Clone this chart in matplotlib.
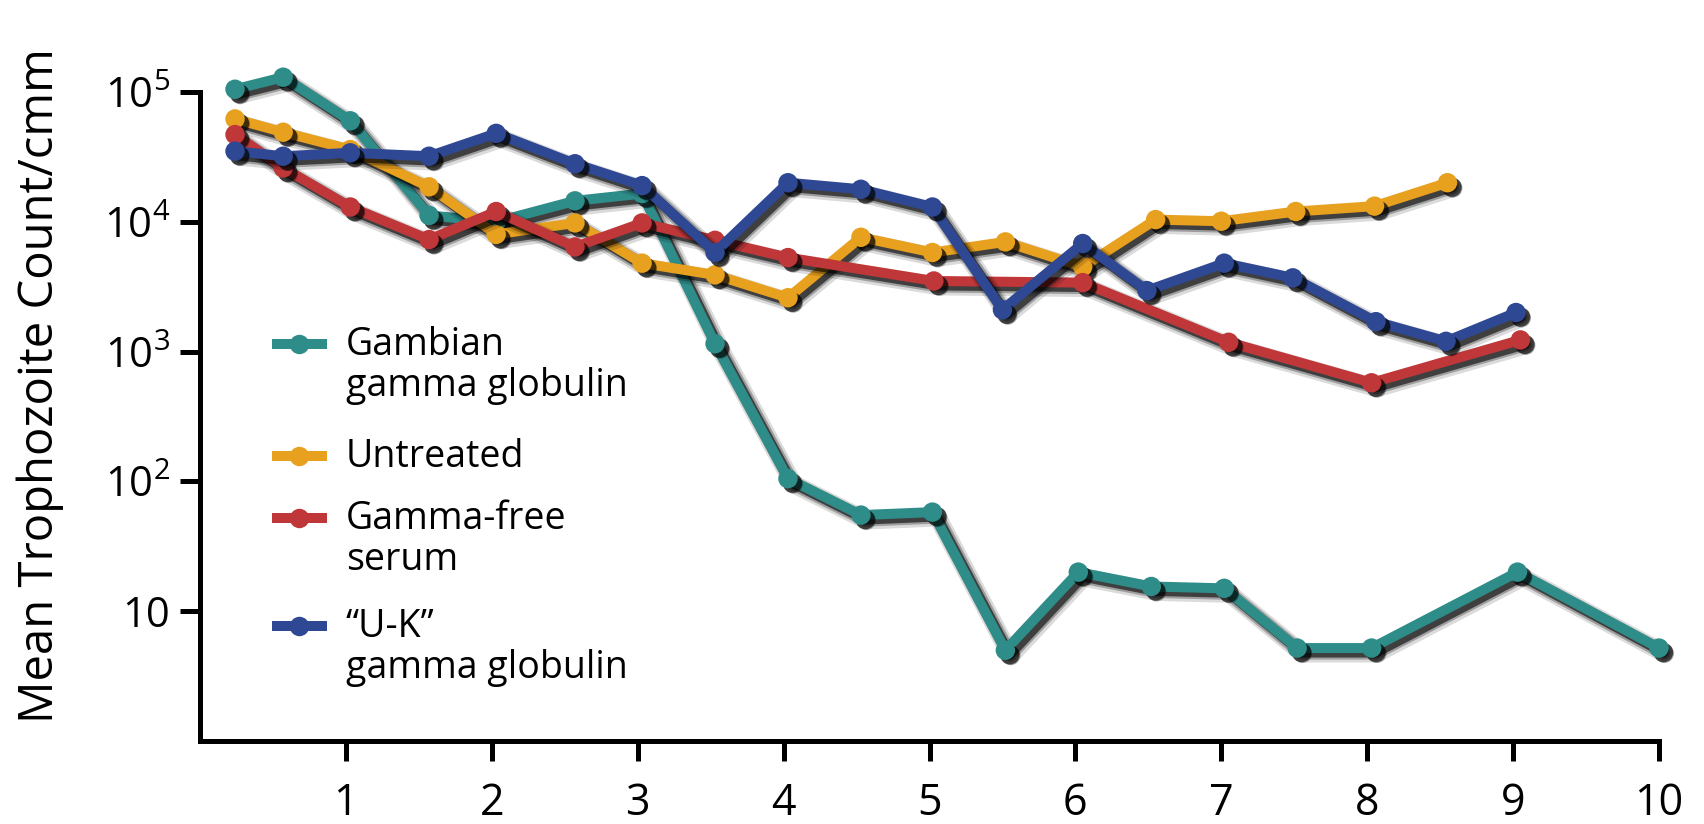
import matplotlib
matplotlib.use("Agg")
import matplotlib.pyplot as plt
import matplotlib.patheffects as pe
from matplotlib.ticker import FixedLocator, FixedFormatter, NullLocator

plt.rcParams['font.family'] = ['Open Sans', 'DejaVu Sans']
plt.rcParams['mathtext.fontset'] = 'custom'
plt.rcParams['mathtext.rm'] = 'Open Sans'
plt.rcParams['mathtext.it'] = 'Open Sans'
plt.rcParams['mathtext.bf'] = 'Open Sans'
plt.rcParams['mathtext.default'] = 'regular'

# ---------------- data ----------------
series_labels = ["Gambian\ngamma globulin", "Untreated", "Gamma-free\nserum",
                 "\u201cU-K\u201d\ngamma globulin"]
series_colors = ["#2E8C89", "#E8A01F", "#C0373A", "#2F4893"]

gambian_days = [0.24, 0.57, 1.03, 1.57, 2.03, 2.57, 3.03, 3.53, 4.03, 4.53,
                5.02, 5.52, 6.02, 6.52, 7.02, 7.52, 8.03, 9.03, 10.0]
gambian_counts = [1.05e5, 1.3e5, 6.0e4, 1.12e4, 1.0e4, 1.45e4, 1.65e4, 1.15e3,
                  105, 55, 58, 5, 20, 15.5, 15, 5.2, 5.2, 20, 5.2]

untreated_days = [0.24, 0.57, 1.03, 1.57, 2.03, 2.57, 3.03, 3.53, 4.03, 4.53,
                  5.02, 5.52, 6.05, 6.55, 7.0, 7.51, 8.05, 8.55]
untreated_counts = [6.2e4, 4.9e4, 3.6e4, 1.86e4, 8.0e3, 9.8e3, 4.8e3, 3.9e3,
                    2.6e3, 7.6e3, 5.8e3, 7.0e3, 4.5e3, 1.04e4, 1.01e4, 1.2e4,
                    1.32e4, 2.0e4]

gammafree_days = [0.24, 0.57, 1.03, 1.57, 2.03, 2.57, 3.03, 3.53, 4.03,
                  5.03, 6.05, 7.05, 8.03, 9.05]
gammafree_counts = [4.7e4, 2.6e4, 1.3e4, 7.3e3, 1.2e4, 6.4e3, 9.8e3, 7.2e3,
                    5.3e3, 3.5e3, 3.4e3, 1.18e3, 575, 1.23e3]

uk_days = [0.24, 0.57, 1.03, 1.57, 2.03, 2.57, 3.03, 3.53, 4.03, 4.53, 5.02,
           5.50, 6.05, 6.49, 7.02, 7.49, 8.06, 8.54, 9.02]
uk_counts = [3.5e4, 3.2e4, 3.4e4, 3.2e4, 4.8e4, 2.8e4, 1.9e4, 5.8e3, 2.0e4,
             1.78e4, 1.3e4, 2.1e3, 6.8e3, 2.95e3, 4.8e3, 3.7e3, 1.7e3, 1.2e3,
             2.0e3]

x_ticks = [1, 2, 3, 4, 5, 6, 7, 8, 9, 10]
x_tick_labels = ["1", "2", "3", "4", "5", "6", "7", "8", "9", "10"]
y_ticks = [10, 100, 1000, 10000, 100000]
y_tick_labels = ["10", "$10^2$", "$10^3$", "$10^4$", "$10^5$"]
y_label = "Mean Trophozoite Count/cmm"

all_days = [gambian_days, untreated_days, gammafree_days, uk_days]
all_counts = [gambian_counts, untreated_counts, gammafree_counts, uk_counts]

# ---------------- figure ----------------
W, H = 1704, 824
fig = plt.figure(figsize=(W / 100, H / 100), dpi=100)
ax = fig.add_axes([200 / W, 83 / H, 1459 / W, 649 / H])
ax.set_yscale('log')
ax.set_xlim(0, 10)
ax.set_ylim(1, 1e5)

lw = 7.2
ms = 14
off = (3.2, -3.2)
line_fx = [
    pe.SimpleLineShadow(offset=(3.8, -3.8), shadow_color='black', alpha=0.14, linewidth=lw + 6),
    pe.SimpleLineShadow(offset=off, shadow_color='black', alpha=0.28, linewidth=lw + 3),
    pe.SimpleLineShadow(offset=off, shadow_color='black', alpha=0.6, linewidth=lw),
    pe.Normal(),
]
marker_fx = [
    pe.SimplePatchShadow(offset=(3.8, -3.8), shadow_rgbFace='black', alpha=0.3),
    pe.SimplePatchShadow(offset=off, shadow_rgbFace='black', alpha=0.6),
    pe.Normal(),
]

for days, counts, col in zip(all_days, all_counts, series_colors):
    ax.plot(days, counts, '-', color=col, lw=lw, solid_joinstyle='round',
            solid_capstyle='round', path_effects=line_fx, clip_on=False, zorder=3)
    ax.plot(days, counts, 'o', color=col, ms=ms, mew=0, path_effects=marker_fx,
            clip_on=False, zorder=3)

# spines / ticks
for s in ['top', 'right']:
    ax.spines[s].set_visible(False)
for s in ['left', 'bottom']:
    ax.spines[s].set_linewidth(3.6)
ax.xaxis.set_major_locator(FixedLocator(x_ticks))
ax.xaxis.set_major_formatter(FixedFormatter(x_tick_labels))
ax.yaxis.set_major_locator(FixedLocator(y_ticks))
ax.yaxis.set_major_formatter(FixedFormatter(y_tick_labels))
ax.yaxis.set_minor_locator(NullLocator())
ax.xaxis.set_minor_locator(NullLocator())
ax.tick_params(axis='x', length=14.5, width=3.6, pad=15, labelsize=31)
ax.tick_params(axis='y', length=14.5, width=3.6, pad=7, labelsize=30)

fig.text(53 / W, 1 - 386 / H, y_label, rotation=90, rotation_mode='anchor',
         ha='center', va='baseline', fontsize=34)

# legend (drawn as key lines + text, in figure pixel layout)
handle_x0, handle_x1, handle_xm = 271.7, 326.7, 299
text_x = 346
handle_y = [344, 456, 518, 626]
text_top = [326, 438, 500, 608]
for lab, col, hy, tt in zip(series_labels, series_colors, handle_y, text_top):
    fig.add_artist(plt.Line2D([handle_x0 / W, handle_x1 / W], [1 - hy / H, 1 - hy / H],
                              transform=fig.transFigure, color=col, lw=lw,
                              solid_capstyle='butt'))
    fig.add_artist(plt.Line2D([handle_xm / W], [1 - hy / H], transform=fig.transFigure,
                              color=col, marker='o', ms=ms, mew=0, ls='none'))
    fig.text(text_x / W, 1 - tt / H, lab, ha='left', va='top', fontsize=27,
             linespacing=1.12)

fig.savefig("out.png", dpi=100, facecolor='white')
